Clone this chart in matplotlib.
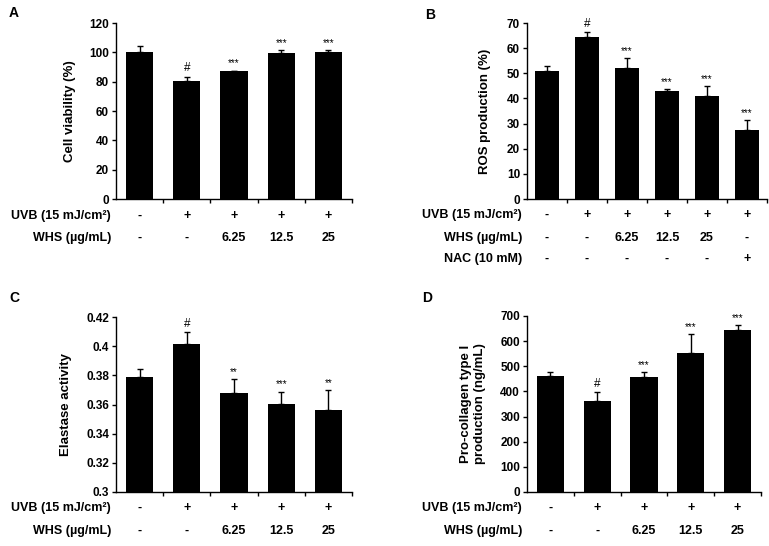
import numpy as np
import matplotlib.pyplot as plt
import matplotlib.transforms as mtransforms

plt.rcParams['font.family'] = ['Liberation Sans', 'DejaVu Sans']
plt.rcParams['font.weight'] = 'bold'

# ---------------- dados ----------------
uvb_5 = ['-', '+', '+', '+', '+']
whs_5 = ['-', '-', '6.25', '12.5', '25']

uvb_6 = ['-', '+', '+', '+', '+', '+']
whs_6 = ['-', '-', '6.25', '12.5', '25', '-']
nac_6 = ['-', '-', '-', '-', '-', '+']

viab = [100.2, 80.5, 87.0, 99.3, 100.0]
viab_err = [4.0, 3.0, 0.6, 2.2, 1.3]
viab_sig = ['', '#', '***', '***', '***']

ros = [51.1, 64.3, 52.3, 43.0, 40.9, 27.6]
ros_err = [1.6, 2.1, 3.6, 0.8, 4.1, 3.8]
ros_sig = ['', '#', '***', '***', '***', '***']

elast = [0.3792, 0.4015, 0.3682, 0.3605, 0.3565]
elast_err = [0.0053, 0.0080, 0.0092, 0.0084, 0.0133]
elast_sig = ['', '#', '**', '***', '**']

coll = [462, 361, 457, 554, 643]
coll_err = [14, 36, 20, 74, 20]
coll_sig = ['', '#', '***', '***', '***']

W, H = 769, 546
fig = plt.figure(figsize=(W / 100, H / 100), dpi=100)


def painel(x0, x1, ytop, ybot, vals, errs, sig, ylim, yticks, ytl, ylabel,
           linhas, rotulos, ylinhas, letra, letra_xy, ylab_x):
    ax = fig.add_axes([x0 / W, 1 - ybot / H, (x1 - x0) / W, (ybot - ytop) / H])
    n = len(vals)
    x = np.arange(n)
    ax.bar(x, vals, width=0.58, color='black', zorder=2)
    ax.errorbar(x, vals, yerr=[np.zeros(n), errs], fmt='none', ecolor='black',
                elinewidth=1, capsize=2.5, capthick=1, zorder=1)
    for xi, v, e, s in zip(x, vals, errs, sig):
        if s:
            fs = 8.5 if s == '#' else 7
            ax.annotate(s, (xi, v + e), xytext=(0, 1.5), textcoords='offset points',
                        ha='center', va='bottom', fontsize=fs, fontweight='normal')
    ax.set_xlim(-0.5, n - 0.5)
    ax.set_ylim(*ylim)
    ax.set_yticks(yticks)
    ax.set_yticklabels(ytl)
    ax.set_xticks(np.arange(n) + 0.5)
    ax.set_xticklabels([])
    ax.tick_params(axis='y', direction='out', length=3, width=1, labelsize=8.5, pad=2)
    ax.tick_params(axis='x', direction='out', length=3, width=1)
    for s in ['top', 'right']:
        ax.spines[s].set_visible(False)
    for s in ['left', 'bottom']:
        ax.spines[s].set_linewidth(1)
    ax.set_ylabel(ylabel, fontsize=9.5, fontweight='bold')
    ax.yaxis.set_label_coords(ylab_x, 0.5)

    trans = mtransforms.blended_transform_factory(ax.transData, fig.transFigure)
    for lin, rot, yl in zip(linhas, rotulos, ylinhas):
        fig.text((x0 - 5) / W, 1 - yl / H, rot, ha='right', va='center',
                 fontsize=9, fontweight='bold')
        for xi, t in zip(x, lin):
            ax.text(xi, 1 - yl / H, t, transform=trans, ha='center', va='center',
                    fontsize=9, fontweight='bold')
    fig.text(letra_xy[0] / W, 1 - letra_xy[1] / H, letra, fontsize=10,
             fontweight='bold', ha='left', va='center')
    return ax


uvb_lab = 'UVB (15 mJ/cm\u00b2)'
whs_lab = 'WHS (\u00b5g/mL)'
nac_lab = 'NAC (10 mM)'

painel(116, 352, 23, 199, viab, viab_err, viab_sig, (0, 120),
       np.arange(0, 121, 20), [str(v) for v in range(0, 121, 20)],
       'Cell viability (%)', [uvb_5, whs_5], [uvb_lab, whs_lab], [216, 238],
       'A', (9, 13), -0.17)

painel(527, 767, 23, 199, ros, ros_err, ros_sig, (0, 70),
       np.arange(0, 71, 10), [str(v) for v in range(0, 71, 10)],
       'ROS production (%)', [uvb_6, whs_6, nac_6], [uvb_lab, whs_lab, nac_lab],
       [215, 238, 259], 'B', (425, 15), -0.15)

painel(116, 352, 317, 492, elast, elast_err, elast_sig, (0.3, 0.42),
       [0.3, 0.32, 0.34, 0.36, 0.38, 0.4, 0.42],
       ['0.3', '0.32', '0.34', '0.36', '0.38', '0.4', '0.42'],
       'Elastase activity', [uvb_5, whs_5], [uvb_lab, whs_lab], [508, 531],
       'C', (9, 298), -0.185)

painel(527, 761, 316, 492, coll, coll_err, coll_sig, (0, 700),
       np.arange(0, 701, 100), [str(v) for v in range(0, 701, 100)],
       'Pro-collagen type I\nproduction (ng/mL)', [uvb_5, whs_5], [uvb_lab, whs_lab],
       [508, 531], 'D', (422, 298), -0.175)

fig.savefig('out.png', dpi=100)
